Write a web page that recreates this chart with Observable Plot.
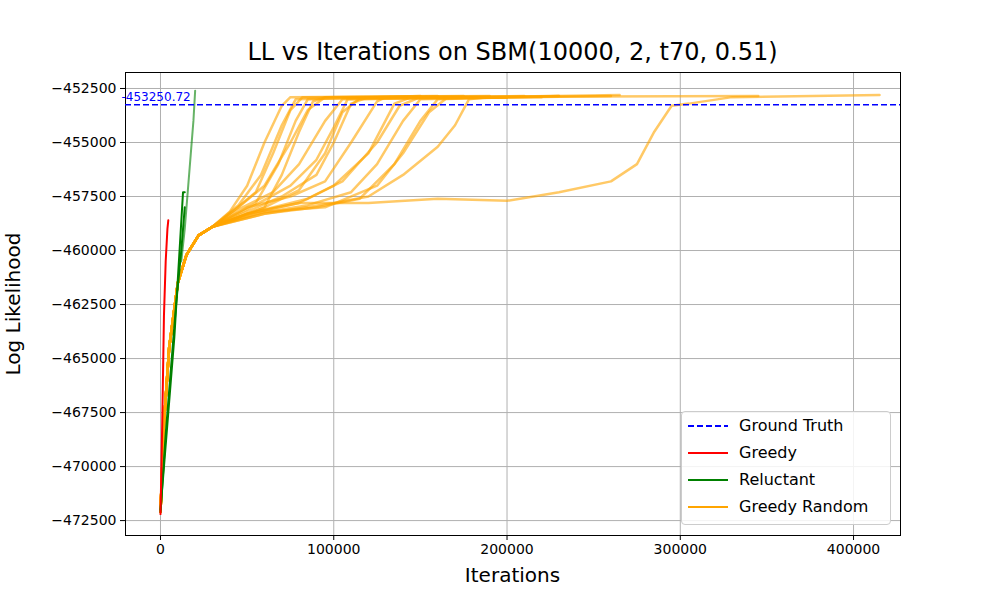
<!DOCTYPE html>
<html><head><meta charset="utf-8">
<script src="https://cdn.jsdelivr.net/npm/d3@7"></script>
<script src="https://cdn.jsdelivr.net/npm/@observablehq/plot@0.6"></script>
<style>
body{margin:0;font-family:"DejaVu Sans",sans-serif;background:#fff}
#wrap{position:relative;width:1000px;height:600px}
.t{position:absolute;white-space:nowrap}
#legend{position:absolute;left:681px;top:411px;width:208px;height:112px;border:1px solid #ccc;border-radius:4px;background:rgba(255,255,255,.85);font-size:16px}
#legend div{position:relative;height:27px;line-height:27px;padding-left:57px}
#legend svg{position:absolute;left:6px;top:12px}
</style></head><body>
<div id="wrap"></div>
<script>
const groundTruth = -453250.72;
const groundLabel = "-453250.72";
const yTicks = [-472500,-470000,-467500,-465000,-462500,-460000,-457500,-455000,-452500];
const xTicks = [0,100000,200000,300000,400000];
const grPrefix = [[0,-472100],[2000,-468000],[5000,-464500],[10000,-461500],[15000,-460200],[22000,-459300],[30000,-458900]];
const grTails = [
 [[40,-458200],[50,-457000],[60,-455000],[70,-453300],[75,-452900],[160,-452850]],
 [[40,-458300],[55,-457300],[65,-455500],[75,-453500],[82,-452900],[180,-452900]],
 [[45,-458000],[60,-457000],[75,-455000],[85,-453500],[95,-452900],[190,-452850]],
 [[45,-458100],[65,-457300],[80,-456000],[95,-454000],[105,-453000],[200,-452900]],
 [[50,-458200],[70,-457500],[90,-456500],[100,-455000],[110,-453200],[120,-452900],[210,-452850]],
 [[50,-458000],[75,-457500],[95,-456800],[110,-455000],[125,-453100],[130,-452900],[220,-452900]],
 [[50,-458300],[80,-457800],[100,-457000],[120,-455500],[135,-453200],[145,-452900],[230,-452850]],
 [[55,-458300],[85,-457900],[110,-457300],[125,-456000],[140,-454000],[150,-453000],[200,-452900]],
 [[60,-458300],[90,-458000],[115,-457600],[135,-456000],[150,-454000],[160,-453000],[230,-452850]],
 [[60,-458000],[70,-456500],[80,-454500],[88,-453100],[95,-452900],[175,-452850]],
 [[55,-457800],[68,-456000],[78,-454000],[85,-453000],[150,-452850]],
 [[60,-458000],[80,-457200],[95,-455500],[105,-453600],[115,-452950],[200,-452900]],
 [[50,-458300],[80,-457800],[120,-457800],[160,-457600],[200,-457700],[230,-457300],[260,-456800],[275,-456000],[285,-454500],[295,-453300],[305,-453200],[330,-452900],[415,-452800]],
 [[60,-458300],[100,-457800],[120,-457500],[140,-456500],[160,-455200],[170,-454200],[178,-453000],[190,-452900],[265,-452800]],
 [[55,-458200],[85,-457600],[105,-456800],[125,-455000],[138,-453300],[150,-452900],[345,-452850]],
 [[50,-458100],[75,-457000],[90,-455800],[100,-454300],[108,-453000],[200,-452900]],
 [[60,-458200],[95,-458000],[125,-457000],[140,-455500],[155,-453600],[165,-452950],[260,-452850]],
 [[45,-457900],[58,-456500],[70,-454200],[78,-453000],[140,-452900]]
];
const reluctantRuns = [
 [[0,-472100],[3000,-468500],[6000,-465500],[9000,-462500],[12000,-460000],[14000,-458000]],
 [[0,-472000],[4000,-468000],[8000,-464000],[11000,-460000],[13000,-457300],[14000,-457300]]
];
const reluctantLight = [[12000,-460500],[14000,-459000],[17000,-456000],[19000,-454000],[20000,-452600]];
const greedyRun = [[0,-472200],[1000,-468000],[2000,-463000],[3000,-460500],[4000,-459000],[4500,-458600]];

const rows = [];
grTails.forEach((t,i)=>{
  grPrefix.forEach(p=>rows.push({s:"gr"+i,x:p[0],y:p[1]}));
  t.forEach(p=>rows.push({s:"gr"+i,x:p[0]*1000,y:p[1]}));
});
const toRows=(arr,s)=>arr.map(p=>({s,x:p[0],y:p[1]}));
const rel = reluctantRuns.flatMap((r,i)=>toRows(r,"r"+i));
const minus = s=>s.replace(/-/g,"\u2212");

const chart = Plot.plot({
  width:1000,height:600,marginLeft:125,marginRight:100,marginTop:72,marginBottom:65,
  style:{fontSize:"14px",fontFamily:"DejaVu Sans",color:"#000"},
  x:{domain:[-20200,427100],ticks:xTicks,tickFormat:d=>minus(d3.format("d")(d)),label:null,grid:true,tickSize:5},
  y:{domain:[-473190,-451760],ticks:yTicks,tickFormat:d=>minus(d3.format("d")(d)),label:null,grid:true,tickSize:5},
  marks:[
    Plot.frame({stroke:"#000"}),
    Plot.line(rows,{x:"x",y:"y",z:"s",stroke:"orange",strokeOpacity:0.6,strokeWidth:2.5}),
    Plot.line(toRows(reluctantLight,"rl"),{x:"x",y:"y",stroke:"green",strokeOpacity:0.6,strokeWidth:2}),
    Plot.line(rel,{x:"x",y:"y",z:"s",stroke:"green",strokeWidth:2}),
    Plot.line(toRows(greedyRun,"g"),{x:"x",y:"y",stroke:"red",strokeWidth:2}),
    Plot.ruleY([groundTruth],{stroke:"blue",strokeDasharray:"6,3",strokeWidth:1.6}),
    Plot.text([groundLabel],{x:-20200,y:groundTruth,text:d=>d,textAnchor:"start",dx:-4,dy:-8,fill:"blue",fontSize:12})
  ]
});
chart.style.position="absolute";chart.style.left="0";chart.style.top="0";
const wrap=document.getElementById("wrap");
wrap.appendChild(chart);
chart.querySelectorAll("[aria-label$='grid'] line, [aria-label$='grid'] path").forEach(e=>{e.setAttribute("stroke","#b0b0b0");e.setAttribute("stroke-opacity","1");});
const add=(txt,css)=>{const d=document.createElement("div");d.className="t";d.textContent=txt;Object.assign(d.style,css);wrap.appendChild(d);};
add("LL vs Iterations on SBM(10000, 2, t70, 0.51)",{left:"0",width:"1025px",textAlign:"center",top:"38px",fontSize:"24px"});
add("Iterations",{left:"0",width:"1025px",textAlign:"center",top:"563px",fontSize:"20px"});
add("Log Likelihood",{left:"-62px",top:"292px",fontSize:"20px",transform:"rotate(-90deg)",width:"150px",textAlign:"center"});
const lg=document.createElement("div");lg.id="legend";
[["Ground Truth","blue",true],["Greedy","red"],["Reluctant","green"],["Greedy Random","orange"]].forEach(([n,c,d])=>{
  lg.insertAdjacentHTML("beforeend",`<div><svg width="42" height="4"><line x1="0" x2="40" y1="2" y2="2" stroke="${c}" stroke-width="2" ${d?'stroke-dasharray="6,3"':''}/></svg>${n}</div>`);
});
wrap.appendChild(lg);
</script></body></html>
